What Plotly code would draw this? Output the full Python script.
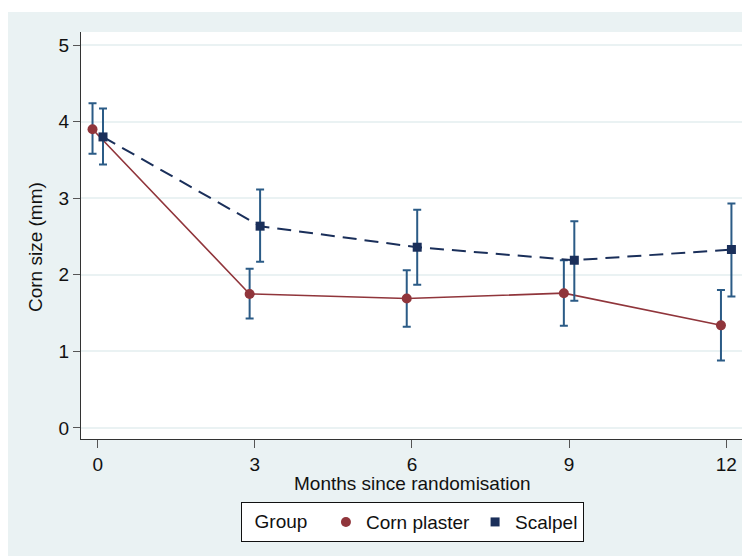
import plotly.graph_objects as go

months = [0, 3, 6, 9, 12]
corn_mean = [3.90, 1.75, 1.69, 1.76, 1.34]
corn_lo = [3.58, 1.43, 1.32, 1.335, 0.88]
corn_hi = [4.24, 2.08, 2.06, 2.19, 1.80]
scal_mean = [3.80, 2.635, 2.36, 2.19, 2.33]
scal_lo = [3.44, 2.17, 1.87, 1.66, 1.715]
scal_hi = [4.17, 3.115, 2.85, 2.70, 2.93]
offset = 0.1

RED = "#90353B"
NAVY = "#1A2F5A"
ERR = "#2B5B86"
BG = "#EAF2F3"
FONT = dict(family="Liberation Sans, Arial, sans-serif", size=19, color="#111")

fig = go.Figure()

def add_series(mean, lo, hi, dx, color, symbol, size, dash, width, name):
    xs = [m + dx for m in months]
    fig.add_trace(go.Scatter(
        x=xs, y=mean, mode="lines+markers", showlegend=False,
        line=dict(color=color, width=width, dash=dash),
        marker=dict(color=color, symbol=symbol, size=size),
        error_y=dict(type="data", symmetric=False,
                     array=[h - m for h, m in zip(hi, mean)],
                     arrayminus=[m - l for m, l in zip(mean, lo)],
                     color=ERR, thickness=2, width=4),
        name=name))
    fig.add_trace(go.Scatter(
        x=[None], y=[None], mode="markers", name=name,
        marker=dict(color=color, symbol=symbol, size=size)))

add_series(corn_mean, corn_lo, corn_hi, -offset, RED, "circle", 10, "solid", 1.6, "Corn plaster")
add_series(scal_mean, scal_lo, scal_hi, offset, NAVY, "square", 9, "14px,8px", 2, "Scalpel")

fig.update_layout(
    width=750, height=556,
    margin=dict(l=73, r=14, t=24, b=125, autoexpand=False),
    paper_bgcolor="white", plot_bgcolor="rgba(0,0,0,0)",
    font=FONT,
    shapes=[
        dict(type="rect", xref="paper", yref="paper", x0=-0.1101, x1=1.0075,
             y0=-0.32, y1=1.049, fillcolor=BG, line=dict(width=0), layer="below"),
        dict(type="rect", xref="paper", yref="paper", x0=0, x1=1, y0=0, y1=1,
             fillcolor="white", line=dict(width=0), layer="below"),
    ],
    annotations=[
        dict(text="Months since randomisation", xref="paper", yref="paper",
             x=0.5, y=-0.109, xanchor="center", yanchor="middle",
             showarrow=False, font=FONT),
        dict(text="Corn size (mm)", xref="paper", yref="paper", textangle=-90,
             x=-0.0694, y=0.4717, xanchor="center", yanchor="middle",
             showarrow=False, font=FONT),
    ],
    xaxis=dict(range=[-0.32, 12.34], tickvals=months, ticktext=[str(m) for m in months],
               showgrid=False, zeroline=False, showline=True, linecolor="#333", linewidth=1,
               ticks="outside", ticklen=8, tickcolor="#555", tickwidth=1.2, automargin=False),
    yaxis=dict(range=[-0.144, 5.17], tickvals=[0, 1, 2, 3, 4, 5],
               showgrid=True, gridcolor=BG, gridwidth=1.5, zeroline=False,
               showline=True, linecolor="#333", linewidth=1, automargin=False,
               ticks="outside", ticklen=7, tickcolor="#555", tickwidth=1.2),
    legend=dict(orientation="h", x=0.5, xanchor="center", y=-0.155, yanchor="top",
                bgcolor="white", bordercolor="#111", borderwidth=1,
                title=dict(text="\u00a0\u00a0Group\u00a0\u00a0", side="left", font=FONT), font=FONT,
                itemwidth=30, tracegroupgap=0),
)

fig.write_html("out.html")
